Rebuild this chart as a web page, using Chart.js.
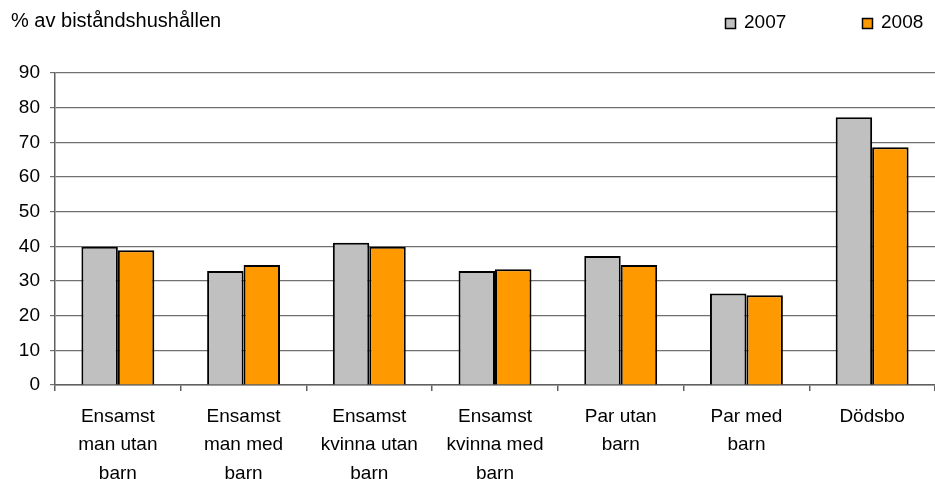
<!DOCTYPE html>
<html>
<head>
<meta charset="utf-8">
<script src="https://cdn.jsdelivr.net/npm/chart.js@4/dist/chart.umd.min.js"></script>
<style>
  html, body { margin: 0; padding: 0; background: #fff; overflow: hidden; }
  #wrap { width: 935px; height: 479px; }
</style>
</head>
<body>
<div id="wrap"><canvas id="myChart"></canvas></div>
<script>
const categories = [
  ["Ensamst", "man utan", "barn"],
  ["Ensamst", "man med", "barn"],
  ["Ensamst", "kvinna utan", "barn"],
  ["Ensamst", "kvinna med", "barn"],
  ["Par utan", "barn"],
  ["Par med", "barn"],
  ["Dödsbo"]
]
const values2007 = [39.9, 32.9, 41.0, 32.9, 37.2, 26.4, 77.2]
const values2008 = [38.9, 34.6, 39.9, 33.4, 34.6, 25.9, 68.6]
const yTicks = [0, 10, 20, 30, 40, 50, 60, 70, 80, 90]
const yTitle = "% av biståndshushållen"

const font = "'Liberation Sans', Arial, sans-serif"

// title in the top left corner and a hand drawn legend top right
const headerPlugin = {
  id: 'header',
  afterDraw(chart) {
    const c = chart.ctx
    c.save()
    c.fillStyle = '#000'
    c.textBaseline = 'middle'
    c.textAlign = 'left'
    c.font = '20px ' + font
    c.fillText(yTitle, 11, 21)
    c.font = '19px ' + font
    const spots = [725, 862]
    chart.data.datasets.forEach((ds, i) => {
      const x = spots[i]
      c.fillStyle = ds.backgroundColor
      c.fillRect(x, 18, 11, 11)
      c.strokeStyle = '#000'
      c.lineWidth = 1.5
      c.strokeRect(x + 0.5, 18.5, 10, 10)
      c.fillStyle = '#000'
      c.fillText(ds.label, x + 19, 23)
    })
    c.restore()
  }
}

const data = {
  labels: categories,
  datasets: [
    {
      label: '2007',
      data: values2007,
      backgroundColor: '#C0C0C0',
      borderColor: '#000',
      borderWidth: 2,
      barPercentage: 1,
      categoryPercentage: 0.58
    },
    {
      label: '2008',
      data: values2008,
      backgroundColor: '#FF9900',
      borderColor: '#000',
      borderWidth: 2,
      barPercentage: 1,
      categoryPercentage: 0.58
    }
  ]
}

const config = {
  type: 'bar',
  data: data,
  plugins: [headerPlugin],
  options: {
    responsive: true,
    maintainAspectRatio: false,
    animation: false,
    layout: { padding: { top: 73, right: 0, left: 0, bottom: 0 } },
    plugins: {
      legend: { display: false },
      tooltip: { enabled: false }
    },
    scales: {
      x: {
        afterFit(scale) { scale.height = 94 },
        grid: {
          offset: true,
          drawOnChartArea: false,
          color: '#606060',
          lineWidth: 1.5,
          tickLength: 6
        },
        border: { color: '#606060', width: 1.5 },
        ticks: {
          color: '#000',
          font: { family: font, size: 19, lineHeight: 1.48 },
          padding: 12,
          maxRotation: 0,
          autoSkip: false
        }
      },
      y: {
        min: 0,
        max: 90,
        afterFit(scale) { scale.width = 55 },
        afterBuildTicks(scale) { scale.ticks = yTicks.map(v => ({ value: v })) },
        grid: {
          color: '#707070',
          lineWidth: 1.2,
          tickLength: 5
        },
        border: { color: '#606060', width: 1.5 },
        ticks: {
          color: '#000',
          font: { family: font, size: 19 },
          padding: 10
        }
      }
    }
  }
}

const ctx = document.getElementById('myChart').getContext('2d')
new Chart(ctx, config)
</script>
</body>
</html>
